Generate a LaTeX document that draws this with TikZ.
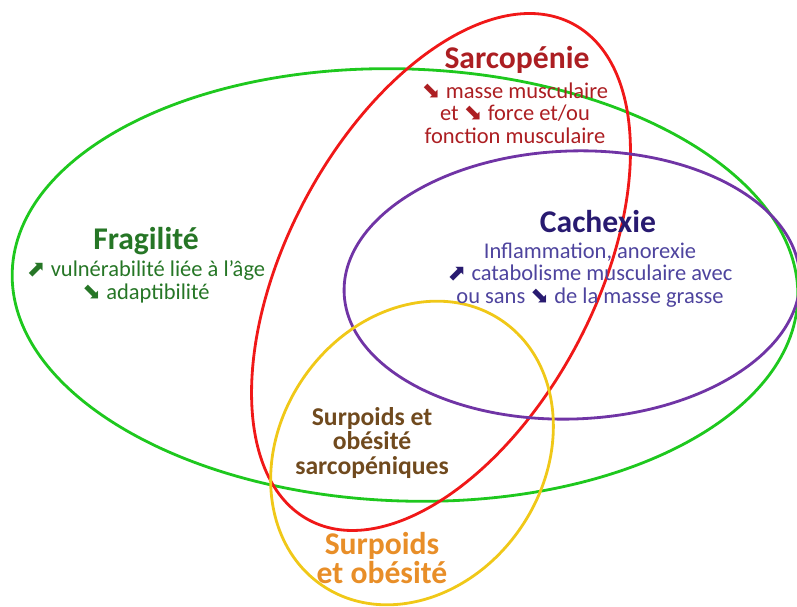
\documentclass[tikz,border=0pt]{standalone}
\usepackage{fontspec}
\setmainfont{Carlito}
\newfontfamily\arrowfont{DejaVu Sans}
\usetikzlibrary{positioning}
\definecolor{fraggreen}{RGB}{30,200,30}
\definecolor{sarcored}{RGB}{240,24,24}
\definecolor{cachpurple}{RGB}{112,52,165}
\definecolor{obeyellow}{RGB}{240,200,24}
\definecolor{fragtext}{RGB}{38,118,38}
\definecolor{sarcotext}{RGB}{172,30,34}
\definecolor{cachtitle}{RGB}{40,26,112}
\definecolor{cachtext}{RGB}{78,68,158}
\definecolor{sarcobrown}{RGB}{112,74,30}
\definecolor{obeorange}{RGB}{232,142,40}
\newcommand{\arrup}{{\arrowfont\char"2B08}}
\newcommand{\arrdown}{{\arrowfont\char"2B0A}}

\begin{document}
\begin{tikzpicture}[x=0.02cm, y=0.02cm,
    ring/.style={line width=1.6pt},
    title/.style={font=\bfseries\fontsize{18}{18}\selectfont},
    body/.style={align=center, font=\fontsize{12.8}{12.8}\selectfont}]
  \useasboundingbox (0,0) rectangle (797,607);

  % the four sets
  \draw[ring, fraggreen] (405,322) ellipse [x radius=393, y radius=216, rotate=-2];
  \draw[ring, sarcored] (441,335) ellipse [x radius=281, y radius=154, rotate=62];
  \draw[ring, cachpurple] (572,322) ellipse [x radius=228, y radius=134, rotate=2];
  \draw[ring, obeyellow] (412,154) ellipse [x radius=160, y radius=132, rotate=56];

  % Fragilite
  \node[title, fragtext] (frag) at (146,366) {Fragilité};
  \node[body, fragtext] (fragtxt) at (146,325) {\arrup{} vulnérabilité liée à l’âge\\ \arrdown{} adaptibilité};

  % Sarcopenie
  \node[title, sarcotext] (sarco) at (517,547) {Sarcopénie};
  \node[body, sarcotext] (sarcotxt) at (515,494) {\arrdown{} masse musculaire\\ et \arrdown{} force et/ou\\ fonction musculaire};

  % Cachexie
  \node[title, cachtitle] (cach) at (598,385) {Cachexie};
  \node[body, cachtext] (cachtxt) at (590,332) {Inflammation, anorexie\\ {\color{cachtitle}\arrup} catabolisme musculaire avec\\ ou sans {\color{cachtitle}\arrdown} de la masse grasse};

  % intersections
  \node[align=center, sarcobrown, font=\bfseries\fontsize{14.6}{14}\selectfont] (sarcobese) at (372,164) {Surpoids et\\ obésité\\ sarcopéniques};
  \node[align=center, obeorange, font=\bfseries\fontsize{18}{15.3}\selectfont] (obese) at (382,49) {Surpoids\\ et obésité};

\end{tikzpicture}
\end{document}
